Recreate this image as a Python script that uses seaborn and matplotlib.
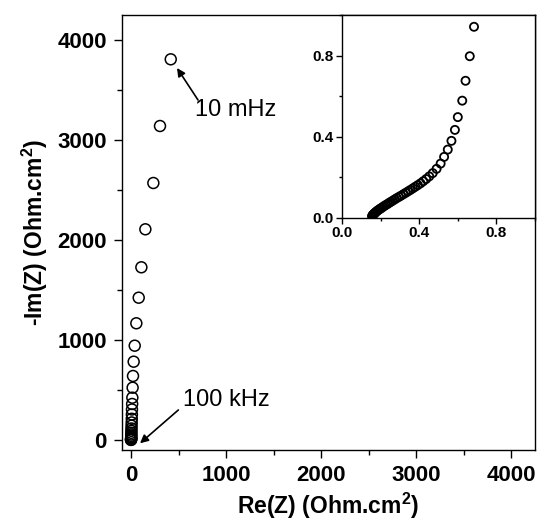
import matplotlib
matplotlib.use("Agg")
import matplotlib.pyplot as plt
import seaborn as sns
from matplotlib.ticker import MultipleLocator

# =========================
# DATA
# =========================

# main Nyquist plot, Ohm.cm2
re_main = [418, 305, 235, 151, 109, 81, 56, 39, 28, 21, 17, 14, 12, 10, 9, 8, 7, 6, 5, 4.5, 4, 3.5, 3, 2.5, 2, 1.5, 1, 0.8, 0.5, 0.3]
im_main = [3807, 3140, 2570, 2107, 1727, 1423, 1167, 943, 783, 640, 523, 423, 360, 305, 255, 212, 175, 143, 115, 92, 72, 55, 41, 30, 21, 14, 9, 5, 2, 0.5]

# inset, high frequency region
re_inset = [0.684, 0.662, 0.640, 0.623, 0.600, 0.585, 0.567, 0.548, 0.529, 0.511, 0.490, 0.470,
            0.452, 0.436, 0.421, 0.407, 0.393, 0.380, 0.367, 0.354, 0.342, 0.330, 0.318, 0.306,
            0.295, 0.284, 0.274, 0.264, 0.254, 0.245, 0.236, 0.227, 0.219, 0.211, 0.204, 0.197,
            0.191, 0.185, 0.180, 0.175, 0.171, 0.167, 0.164, 0.161, 0.159, 0.157, 0.156]
im_inset = [0.942, 0.797, 0.676, 0.578, 0.497, 0.434, 0.380, 0.337, 0.301, 0.268, 0.242, 0.221,
            0.205, 0.192, 0.181, 0.171, 0.162, 0.154, 0.146, 0.138, 0.131, 0.124, 0.117, 0.110,
            0.104, 0.098, 0.092, 0.086, 0.080, 0.075, 0.069, 0.064, 0.059, 0.054, 0.049, 0.045,
            0.041, 0.037, 0.033, 0.029, 0.025, 0.022, 0.019, 0.016, 0.013, 0.010, 0.008]

# =========================
# STYLE
# =========================

sns.set_style("ticks")
plt.rcParams["font.family"] = ["Liberation Sans", "DejaVu Sans"]
plt.rcParams["font.weight"] = "bold"
plt.rcParams["axes.labelweight"] = "bold"
plt.rcParams["mathtext.fontset"] = "custom"
plt.rcParams["mathtext.rm"] = "Liberation Sans"
plt.rcParams["mathtext.bf"] = "Liberation Sans:bold"
plt.rcParams["mathtext.default"] = "bf"
plt.rcParams["axes.linewidth"] = 1.0
for key in ["text.color", "axes.labelcolor", "xtick.color", "ytick.color", "axes.edgecolor"]:
    plt.rcParams[key] = "black"

fig = plt.figure(figsize=(5.39, 5.25), dpi=100)
ax = fig.add_axes([0.2263, 0.1429, 0.7663, 0.8285])

sns.scatterplot(x=re_main, y=im_main, ax=ax, marker="o", s=62,
                facecolors="none", edgecolor="black", linewidth=1.1, zorder=3)

ax.set_xlim(-95, 4250)
ax.set_ylim(-100, 4250)
ax.xaxis.set_major_locator(MultipleLocator(1000))
ax.xaxis.set_minor_locator(MultipleLocator(500))
ax.yaxis.set_major_locator(MultipleLocator(1000))
ax.yaxis.set_minor_locator(MultipleLocator(500))
ax.tick_params(which="both", direction="out", width=1.0)
ax.tick_params(which="major", length=6, labelsize=16)
ax.tick_params(axis="y", which="major", pad=5)
ax.tick_params(axis="x", which="major", pad=5)
ax.tick_params(which="minor", length=3.5)

ax.set_xlabel("Re(Z) (Ohm.cm$^2$)", fontsize=16.5, labelpad=3)
ax.set_ylabel("-Im(Z) (Ohm.cm$^2$)", fontsize=16.5, labelpad=5)

# annotations
arrow = dict(arrowstyle="-|>", color="black", lw=1.2, mutation_scale=12, shrinkA=0, shrinkB=0)
ax.annotate("", xy=(484, 3720), xytext=(705, 3400), arrowprops=arrow)
ax.text(674, 3300, "10 mHz", fontsize=17, fontweight="normal", va="center", ha="left")
ax.annotate("", xy=(95, -33), xytext=(498, 300), arrowprops=arrow)
ax.text(547, 400, "100 kHz", fontsize=17, fontweight="normal", va="center", ha="left")

# =========================
# INSET
# =========================

axin = fig.add_axes([0.6345, 0.5848, 0.3581, 0.3866])
sns.scatterplot(x=re_inset, y=im_inset, ax=axin, marker="o", s=34,
                facecolors="none", edgecolor="black", linewidth=1.3, zorder=3)
axin.set_xlim(0, 1.0)
axin.set_ylim(0, 1.0)
axin.xaxis.set_major_locator(MultipleLocator(0.4))
axin.xaxis.set_minor_locator(MultipleLocator(0.2))
axin.yaxis.set_major_locator(MultipleLocator(0.4))
axin.yaxis.set_minor_locator(MultipleLocator(0.2))
axin.tick_params(which="both", direction="out", width=1.0)
axin.tick_params(which="major", length=4, labelsize=11, pad=2)
axin.tick_params(which="minor", length=2)
axin.set_xlabel("")
axin.set_ylabel("")

fig.savefig("out.png", dpi=100)
